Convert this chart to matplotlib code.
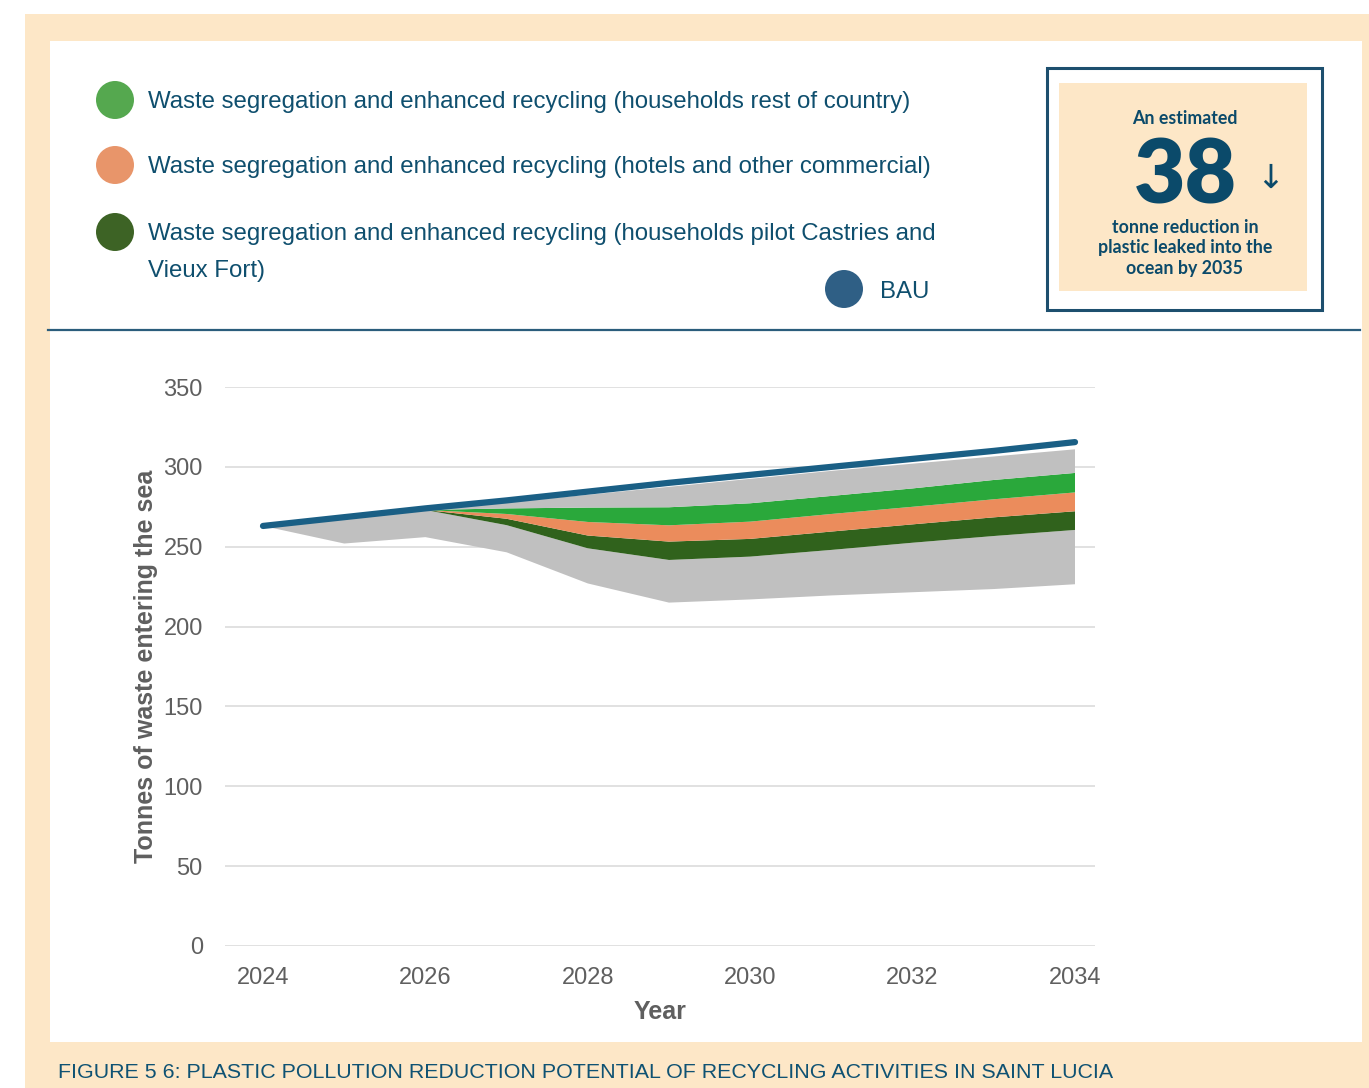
import matplotlib
matplotlib.use("Agg")
import matplotlib.pyplot as plt
from matplotlib.patches import Rectangle, Ellipse

# ---- data -------------------------------------------------------------
years = [2024, 2025, 2026, 2027, 2028, 2029, 2030, 2031, 2032, 2033, 2034]
bau = [263, 268.5, 274, 279, 284.5, 290, 295, 300, 305, 310, 315.5]

# stacked layers (tonnes), bottom to top
floor_level = [263, 252, 256, 246.5, 227, 215, 217, 219.5, 221.5, 223.5, 226.5]
residual_low = [0, 16, 17, 17, 22, 26.7, 26.8, 28.5, 31, 33.2, 34]
pilot_households = [0, 0, 0, 4, 8, 11.5, 11.1, 11.5, 11.5, 11.7, 11.7]
hotels_commercial = [0, 0, 0, 3, 8.5, 10.2, 10.8, 11, 11, 11.3, 11.8]
households_rest = [0, 0, 0, 3.5, 9, 11.3, 11.5, 11.3, 11.5, 12.1, 12.2]
residual_high = [0, 0, 0, 4, 8, 12.8, 15.3, 15.7, 15.5, 14.7, 14.8]

legend_labels = [
    ["Waste segregation and enhanced recycling (households rest of country)"],
    ["Waste segregation and enhanced recycling (hotels and other commercial)"],
    ["Waste segregation and enhanced recycling (households pilot Castries and",
     "Vieux Fort)"],
]
x_ticks = [2024, 2026, 2028, 2030, 2032, 2034]
y_ticks = [0, 50, 100, 150, 200, 250, 300, 350]
reduction_value = "38"

# ---- styling ----------------------------------------------------------
W, H = 1369, 1088
BEIGE = "#fde7c7"
NAVY = "#0f4f6e"
GRAY_FILL = "#c0c0c0"
GREEN = "#2aa83b"
ORANGE = "#eb8c5c"
DARK_GREEN = "#30621c"
BAU_COLOR = "#1a5f85"
TICK_COLOR = "#5f5f5f"

plt.rcParams["font.family"] = ["Liberation Sans", "DejaVu Sans"]

fig = plt.figure(figsize=(W / 100, H / 100), dpi=100)
fig.patch.set_facecolor("white")


def px_rect(x0, y0, x1, y1, **kw):
    """Rectangle in pixel coordinates measured from the top-left corner."""
    return Rectangle((x0 / W, 1 - y1 / H), (x1 - x0) / W, (y1 - y0) / H,
                     transform=fig.transFigure, **kw)


def fx(x):
    return x / W


def fy(y):
    return 1 - y / H


def dot(cx, cy, color, d=38):
    fig.patches.append(Ellipse((fx(cx), fy(cy)), d / W, d / H, transform=fig.transFigure,
                               facecolor=color, edgecolor="none", zorder=1))


# background frames
fig.patches.append(px_rect(25, 14, W, H, facecolor=BEIGE, edgecolor="none", zorder=-2))
fig.patches.append(px_rect(50, 41, 1362, 1042, facecolor="white", edgecolor="none", zorder=-1))

# separator line below the legend
fig.add_artist(plt.Line2D([fx(48), fx(1360)], [fy(330), fy(330)],
                          transform=fig.transFigure, color="#2b5d7c", lw=1.6))

# ---- legend -----------------------------------------------------------
legend_colors = ["#55a84f", "#e8956a", "#3d6325"]
legend_y = [100, 165, 232]
for lines, col, yy in zip(legend_labels, legend_colors, legend_y):
    dot(115, yy, col)
    for i, line in enumerate(lines):
        fig.text(fx(148), fy(yy + 2 + 37 * i), line, ha="left", va="center",
                 color=NAVY, fontsize=17.3)

# BAU legend entry
dot(844, 289, "#2f5f85")
fig.text(fx(880), fy(292), "BAU", ha="left", va="center", color=NAVY, fontsize=17.3)

# ---- callout box ------------------------------------------------------
fig.patches.append(px_rect(1047, 68, 1322, 310, facecolor="white", edgecolor="#1d4f6e",
                           lw=2.2, zorder=1))
fig.patches.append(px_rect(1059, 83, 1307, 291, facecolor=BEIGE, edgecolor="none", zorder=1.2))
box_font = ["Lato", "DejaVu Sans"]
fig.text(fx(1185), fy(118), "An estimated", ha="center", va="center", color="#0b4a6a",
         fontsize=12.8, fontweight="bold", family=box_font)
fig.text(fx(1185), fy(177), reduction_value, ha="center", va="center", color="#0b4a6a",
         fontsize=64, fontweight="heavy", family=box_font)
fig.text(fx(1270), fy(178), "\u2193", ha="center", va="center", color="#0b4a6a",
         fontsize=24, family=["DejaVu Sans"])
fig.text(fx(1185), fy(248), "tonne reduction in\nplastic leaked into the\nocean by 2035",
         ha="center", va="center", color="#0b4a6a", fontsize=12.8, fontweight="bold",
         family=box_font, linespacing=1.25)

# ---- chart ------------------------------------------------------------
ax = fig.add_axes([fx(225), fy(946), (1095 - 225) / W, (946 - 387) / H])
ax.set_zorder(3)
ax.set_facecolor("none")

ax.stackplot(years, floor_level, residual_low, pilot_households, hotels_commercial,
             households_rest, residual_high,
             colors=["none", GRAY_FILL, DARK_GREEN, ORANGE, GREEN, GRAY_FILL],
             linewidth=0, zorder=2)
ax.plot(years, bau, color=BAU_COLOR, lw=4.5, solid_capstyle="round", zorder=3)

ax.set_xlim(2024 - 38 / 81.2, 2034 + 20 / 81.2)
ax.set_ylim(0, 350)
ax.set_xticks(x_ticks)
ax.set_yticks(y_ticks)
ax.set_xticklabels([str(t) for t in x_ticks])
ax.set_yticklabels([str(t) for t in y_ticks])
ax.yaxis.grid(True, color="#dcdcdc", lw=1.2)
ax.set_axisbelow(True)
for s in ax.spines.values():
    s.set_visible(False)
ax.tick_params(axis="both", length=0, labelsize=17, labelcolor=TICK_COLOR)
ax.tick_params(axis="y", pad=16)
ax.tick_params(axis="x", pad=15)

ax.set_ylabel("Tonnes of waste entering the sea", fontsize=18, fontweight="bold",
              color=TICK_COLOR, labelpad=4)
ax.set_xlabel("Year", fontsize=18, fontweight="bold", color=TICK_COLOR, labelpad=8)

# ---- caption ----------------------------------------------------------
fig.text(fx(58), fy(1072),
         "FIGURE 5 6: PLASTIC POLLUTION REDUCTION POTENTIAL OF RECYCLING ACTIVITIES IN SAINT LUCIA",
         ha="left", va="center", color="#0f5273", fontsize=15.4)

fig.savefig("out.png", dpi=100)
